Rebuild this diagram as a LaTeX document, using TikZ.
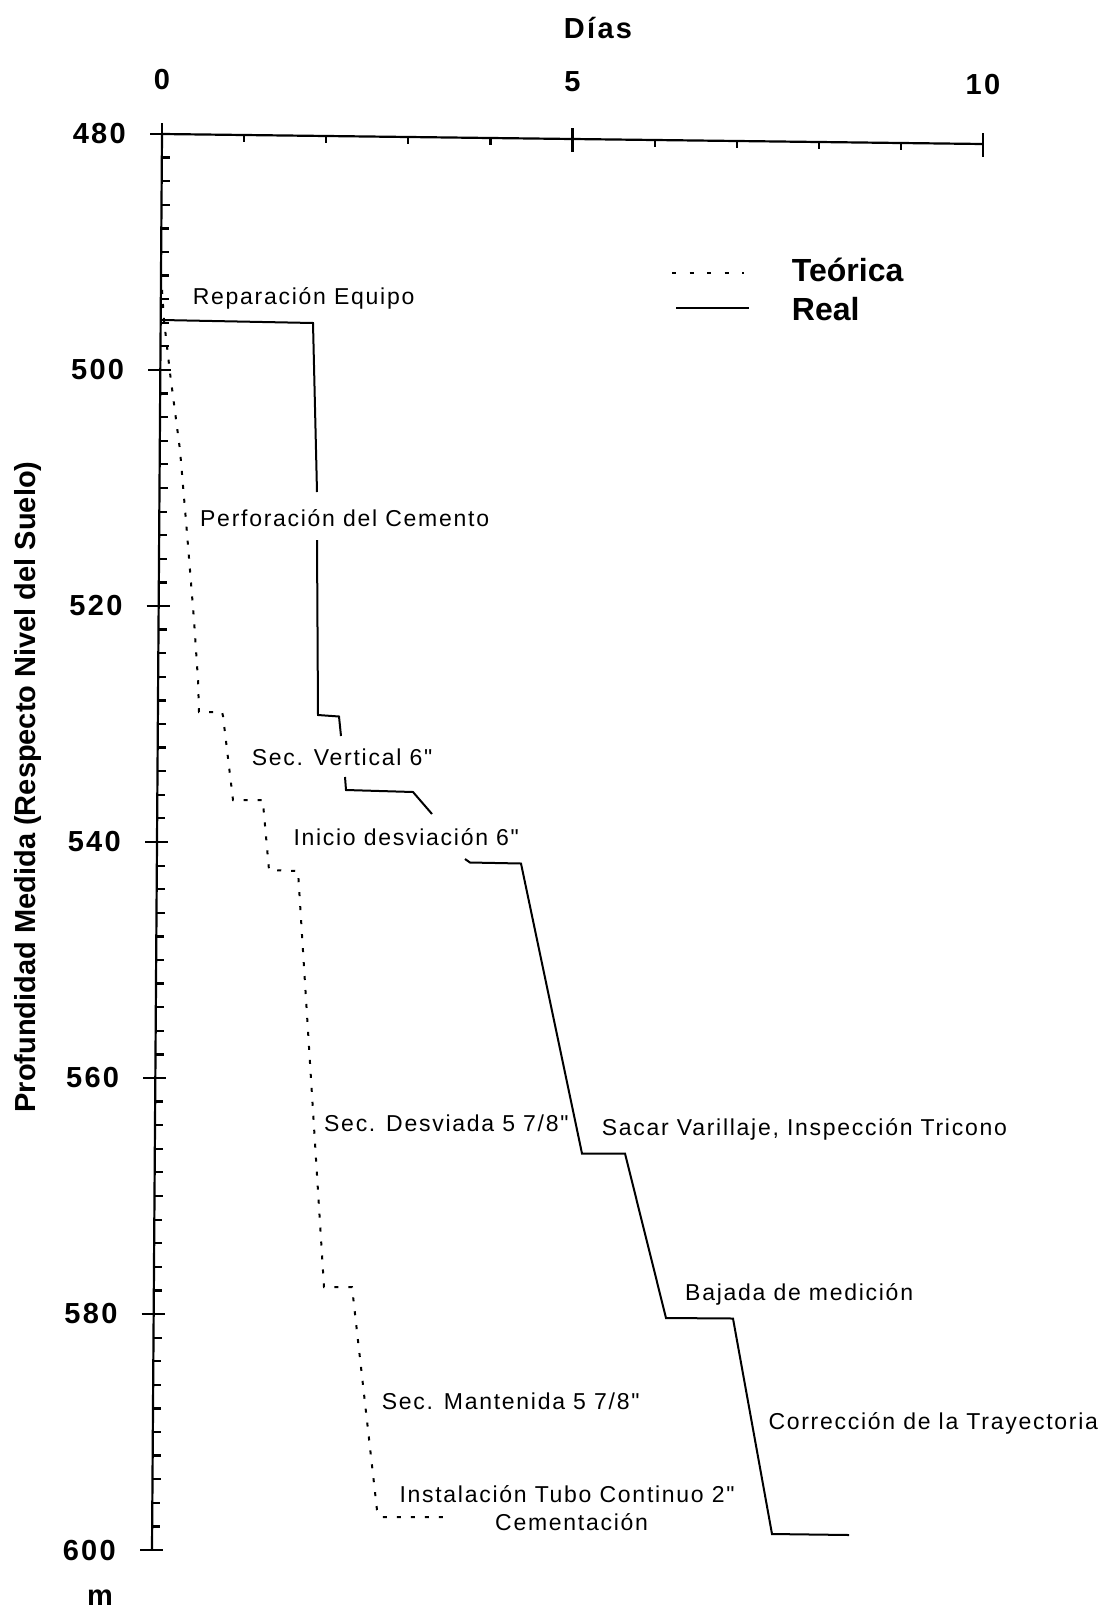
\documentclass[tikz,border=0pt]{standalone}
\usepackage{fontspec}
\setmainfont{Liberation Sans}
\newfontfamily\lblfont[LetterSpace=7.5]{Liberation Sans}
\newfontfamily\numfont[LetterSpace=8]{Liberation Sans}
\usetikzlibrary{calc}
\begin{document}
\begin{tikzpicture}[x=1pt,y=-1pt,
  axisline/.style={line width=2.2pt},
  realline/.style={line width=2pt, line join=miter},
  teoline/.style={line width=2pt, dash pattern=on 4pt off 10pt},
  teolegend/.style={line width=2pt, dash pattern=on 4pt off 13.5pt},
  lbl/.style={inner sep=0pt, anchor=base west, font={\lblfont\fontsize{23}{27}\selectfont}},
  num/.style={inner sep=0pt, font={\numfont\bfseries\fontsize{29}{34}\selectfont}},
  leg/.style={inner sep=0pt, anchor=base west, font={\bfseries\fontsize{32}{38}\selectfont}}]
\useasboundingbox (0,0) rectangle (1113,1609);
\fill[white] (0,0) rectangle (1113,1609);

% axes
\coordinate (yo) at (162,134);
\coordinate (ye) at (152,1550);
\coordinate (xe) at (983,144);
\draw[axisline] (yo) -- (ye);
\draw[axisline] (yo) -- (xe);

% y ticks
\foreach \k in {1,...,59} {
  \draw[axisline] ($(yo)!\k/60!(ye)$) -- ++(8,0);
}
\foreach \k/\lab in {0/480,10/500,20/520,30/540,40/560,50/580,60/600} {
  \coordinate (yt\k) at ($(yo)!\k/60!(ye)$);
  \draw[axisline] ($(yt\k)+(-12,0)$) -- ($(yt\k)+(11,0)$);
  \node[num,anchor=east] (yl\k) at ($(yt\k)+(-36,0)$) {\lab};
}

% x ticks
\foreach \d in {1,2,3,4,6,7,8,9} {
  \draw[axisline] ($(yo)!\d/10!(xe)$) -- ++(0,7);
}
\foreach \d/\lab/\off in {0/0/45,5/5/48,10/10/50} {
  \coordinate (xt\d) at ($(yo)!\d/10!(xe)$);
  \draw[axisline] ($(xt\d)+(0,-11)$) -- ($(xt\d)+(0,13)$);
  \node[num,anchor=base] (xl\d) at ($(xt\d)+(0,-\off)$) {\lab};
}

\node[num,anchor=base] (dias) at (598,38) {Días};
\node[num,anchor=base] (unit) at (100,1605) {m};
\node[inner sep=0pt, rotate=90, font={\bfseries\fontsize{29}{34}\selectfont}] (ylabel) at (28,787) {Profundidad Medida (Respecto Nivel del Suelo)};

% legend
\coordinate (lt1) at (672,273);
\coordinate (lt2) at (744,273);
\coordinate (lr1) at (676,308);
\coordinate (lr2) at (749,308);
\draw[teolegend] (lt1) -- (lt2);
\draw[realline] (lr1) -- (lr2);
\node[leg] (legteo) at (791.7,281.7) {Teórica};
\node[leg] (legreal) at (791.7,320.7) {Real};

% real curve
\draw[realline] (162,320) -- (313,323) -- (317,492);
\draw[realline] (317,540) -- (318,715) -- (339,716.5) -- (341,736);
\draw[realline] (345,777) -- (346,790) -- (413,792) -- (432,814);
\draw[realline] (465,859) -- (470,862.5) -- (521,863.5) -- (582,1153.5) -- (625,1153.5)
  -- (666,1318) -- (733,1318.5) -- (772,1534) -- (849,1535);

% theoretical curve
\draw[teoline] (162,290) -- (164,320) -- (170,373) -- (180,450) -- (187,533) -- (194,620)
  -- (198,680) -- (199,712) -- (222,712) -- (223,716) -- (233,800) -- (263,800) -- (263,803)
  -- (269,870) -- (298,871) -- (324,1287) -- (352,1287) -- (377,1510) -- (381,1517) -- (452,1517);

% labels
\node[lbl] (l1) at (192.7,304) {Reparación Equipo};
\node[lbl] (l2) at (200,526.7) {Perforación del Cemento};
\node[lbl] (l3) at (251.7,765) {Sec. Vertical 6"};
\node[lbl] (l4) at (293.3,845) {Inicio desviación 6"};
\node[lbl] (l5) at (324,1131.7) {Sec. Desviada 5 7/8"};
\node[lbl] (l6) at (601.7,1135) {Sacar Varillaje, Inspección Tricono};
\node[lbl] (l7) at (685,1300.7) {Bajada de medición};
\node[lbl] (l8) at (768.3,1429.3) {Corrección de la Trayectoria};
\node[lbl] (l9) at (381.7,1409.3) {Sec. Mantenida 5 7/8"};
\node[lbl] (l10) at (399.3,1502) {Instalación Tubo Continuo 2"};
\node[lbl] (l11) at (495,1530.7) {Cementación};
\end{tikzpicture}
\end{document}
